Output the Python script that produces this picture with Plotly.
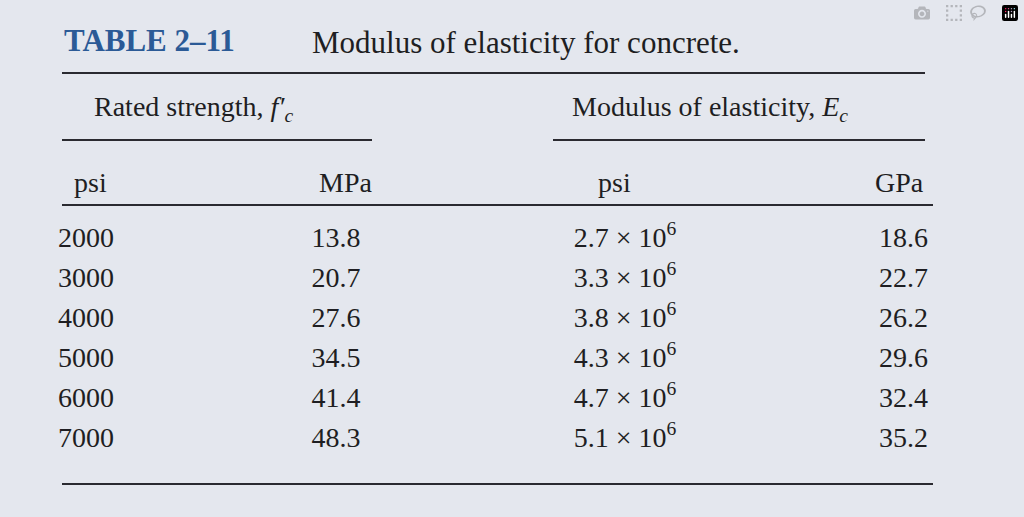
import plotly.graph_objects as go

psi = ["2000", "3000", "4000", "5000", "6000", "7000"]
mpa = ["13.8", "20.7", "27.6", "34.5", "41.4", "48.3"]
e_psi = ["2.7", "3.3", "3.8", "4.3", "4.7", "5.1"]
e_gpa = ["18.6", "22.7", "26.2", "29.6", "32.4", "35.2"]

row_y = [240, 280, 320, 360, 400, 440]
font = dict(family="Liberation Serif", size=28, color="#1e1e22")
ink = "#2a2a30"

fig = go.Figure()
cols = [
    (58, psi, "middle right"),
    (336, mpa, "middle center"),
    (625, [f"{v} × 10<sup>6</sup>" for v in e_psi], "middle center"),
    (928, e_gpa, "middle left"),
]
for x, vals, pos in cols:
    fig.add_trace(go.Scatter(
        x=[x] * len(vals), y=row_y, text=vals, mode="text",
        textposition=pos, textfont=font, hoverinfo="skip",
    ))

def ann(x, y, text, xanchor="left", **kw):
    f = dict(font)
    f.update(kw)
    fig.add_annotation(x=x, y=y, text=text, showarrow=False, xanchor=xanchor,
                       yanchor="middle", font=f)

ann(62, 40, "<b>TABLE 2–11</b>", color="#2b5a96", size=31)
ann(310, 42, "Modulus of elasticity for concrete.", size=31)
ann(92, 108, "Rated strength, <i>f′</i><sub><i>c</i></sub>")
ann(570, 108, "Modulus of elasticity, <i>E</i><sub><i>c</i></sub>")
ann(72, 182, "psi")
ann(374, 182, "MPa", xanchor="right")
ann(596, 182, "psi")
ann(926, 182, "GPa", xanchor="right")

for x0, x1, y in [(62, 925, 73), (62, 372, 140), (553, 925, 140),
                  (62, 933, 205), (62, 933, 484)]:
    fig.add_shape(type="line", x0=x0, x1=x1, y0=y, y1=y,
                  line=dict(color=ink, width=2))

fig.update_layout(
    autosize=True, margin=dict(l=0, r=0, t=0, b=0),
    paper_bgcolor="#e4e7ee", plot_bgcolor="#e4e7ee", showlegend=False,
    xaxis=dict(range=[0, 1024], visible=False, fixedrange=True),
    yaxis=dict(range=[517, 0], visible=False, fixedrange=True),
)
fig.write_html("out.html", default_width="100vw", default_height="100vh",
               include_plotlyjs=True, full_html=True,
               post_script="document.body.style.margin='0';")
